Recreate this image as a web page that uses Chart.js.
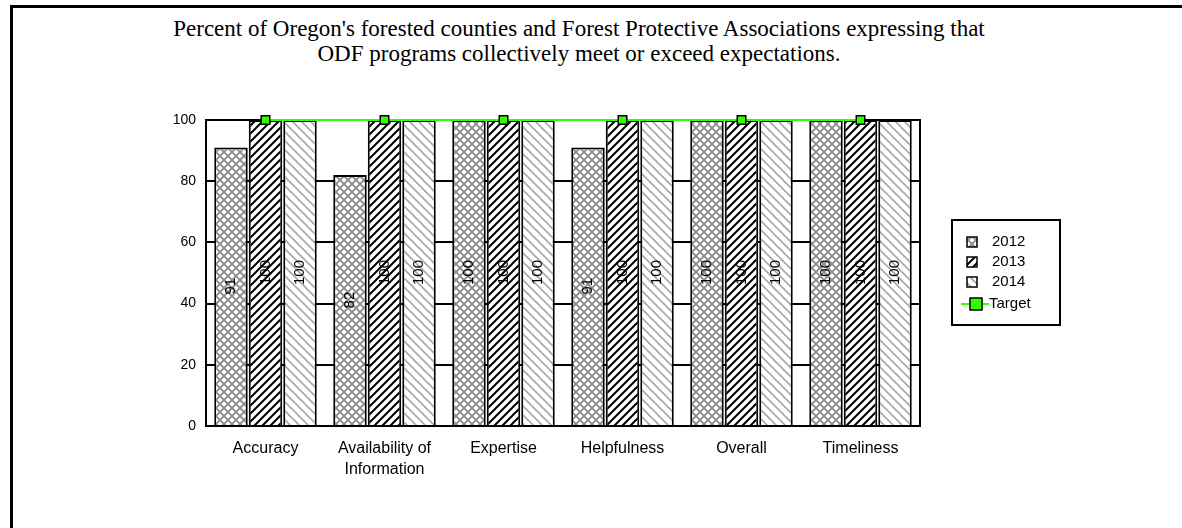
<!DOCTYPE html>
<html lang="en">
<head>
  <meta charset="UTF-8" />
  <title>ODF programs meet or exceed expectations</title>
  <script src="https://cdn.jsdelivr.net/npm/chart.js"></script>
  <style>
    html, body {
      margin: 0;
      padding: 0;
      background: #fff;
    }

    .frame {
      position: relative;
      width: 1182px;
      height: 528px;
      overflow: hidden;
    }

    .frame::before {
      content: "";
      position: absolute;
      left: 10px;
      top: 5px;
      right: -10px;
      bottom: -10px;
      border: 3px solid #000;
    }

    .titulo {
      position: absolute;
      left: 0;
      top: 16px;
      width: 1158px;
      text-align: center;
      font-family: "Liberation Serif", "Times New Roman", serif;
      font-size: 23px;
      line-height: 25px;
      color: #000;
    }

    .grafico {
      position: absolute;
      left: 0;
      top: 0;
      width: 1182px;
      height: 528px;
    }
  </style>
</head>
<body>
  <div class="frame">
    <div class="titulo">
      Percent of Oregon's forested counties and Forest Protective Associations expressing that<br />
      ODF programs collectively meet or exceed expectations.
    </div>
    <div class="grafico">
      <canvas id="grafico"></canvas>
    </div>
  </div>

  <script>
    // dados
    const categorias = ["Accuracy", ["Availability of", "Information"], "Expertise", "Helpfulness", "Overall", "Timeliness"];
    const valores2012 = [91, 82, 100, 91, 100, 100];
    const valores2013 = [100, 100, 100, 100, 100, 100];
    const valores2014 = [100, 100, 100, 100, 100, 100];
    const valoresMeta = [100, 100, 100, 100, 100, 100];
    const ticksY = [0, 20, 40, 60, 80, 100];

    const fonte = "'Liberation Sans', Arial, sans-serif";

    // padrões de preenchimento das barras
    function padrao(tam, desenhar) {
      const c = document.createElement("canvas");
      c.width = tam;
      c.height = tam;
      const g = c.getContext("2d");
      g.fillStyle = "#fff";
      g.fillRect(0, 0, tam, tam);
      desenhar(g, tam);
      return document.createElement("canvas").getContext("2d").createPattern(c, "repeat");
    }

    function barraDireita(g, s) {
      g.beginPath();
      g.moveTo(0, s); g.lineTo(s, 0);
      g.moveTo(-s / 2, s / 2); g.lineTo(s / 2, -s / 2);
      g.moveTo(s / 2, s * 1.5); g.lineTo(s * 1.5, s / 2);
      g.stroke();
    }

    function barraEsquerda(g, s) {
      g.beginPath();
      g.moveTo(0, 0); g.lineTo(s, s);
      g.moveTo(-s / 2, s / 2); g.lineTo(s / 2, s * 1.5);
      g.moveTo(s / 2, -s / 2); g.lineTo(s * 1.5, s / 2);
      g.stroke();
    }

    const padrao2012 = padrao(8, (g, s) => {
      g.strokeStyle = "#8c8c8c";
      g.lineWidth = 1.9;
      barraDireita(g, s);
      barraEsquerda(g, s);
    });

    const padrao2013 = padrao(8, (g, s) => {
      g.strokeStyle = "#000";
      g.lineWidth = 2;
      barraDireita(g, s);
    });

    const padrao2014 = padrao(9, (g, s) => {
      g.strokeStyle = "#a8a8a8";
      g.lineWidth = 1.6;
      barraEsquerda(g, s);
    });

    // moldura da área do gráfico
    const moldura = {
      id: "moldura",
      beforeDatasetsDraw(chart) {
        const { ctx, chartArea: a } = chart;
        ctx.save();
        ctx.strokeStyle = "#000";
        ctx.lineWidth = 2;
        ctx.strokeRect(a.left, a.top, a.right - a.left, a.bottom - a.top);
        ctx.restore();
      }
    };

    // rótulos verticais dentro das barras
    const rotulos = {
      id: "rotulos",
      afterDatasetsDraw(chart) {
        const { ctx } = chart;
        ctx.save();
        ctx.font = "15px " + fonte;
        ctx.fillStyle = "#000";
        ctx.textAlign = "center";
        ctx.textBaseline = "middle";
        chart.data.datasets.forEach((ds, i) => {
          if (ds.type === "line") return;
          chart.getDatasetMeta(i).data.forEach((el, j) => {
            const meio = (el.y + el.base) / 2;
            ctx.save();
            ctx.translate(el.x, meio);
            ctx.rotate(-Math.PI / 2);
            ctx.fillText(String(ds.data[j]), 0, 0);
            ctx.restore();
          });
        });
        ctx.restore();
      }
    };

    // legenda com caixa
    const legenda = {
      id: "legenda",
      afterDraw(chart) {
        const { ctx } = chart;
        ctx.save();
        ctx.strokeStyle = "#000";
        ctx.lineWidth = 2;
        ctx.strokeRect(952, 220, 108, 105);

        ctx.font = "15px " + fonte;
        ctx.textBaseline = "middle";
        ctx.fillStyle = "#000";

        const itens = [
          { texto: "2012", fundo: padrao2012 },
          { texto: "2013", fundo: padrao2013 },
          { texto: "2014", fundo: padrao2014 }
        ];
        itens.forEach((it, i) => {
          const y = 242 + i * 20;
          ctx.fillStyle = it.fundo;
          ctx.fillRect(967, y - 5, 10, 10);
          ctx.lineWidth = 1.5;
          ctx.strokeStyle = "#000";
          ctx.strokeRect(967, y - 5, 10, 10);
          ctx.fillStyle = "#000";
          ctx.fillText(it.texto, 992, y);
        });

        const yMeta = 304;
        ctx.strokeStyle = "#33ff00";
        ctx.lineWidth = 2;
        ctx.beginPath();
        ctx.moveTo(961, yMeta);
        ctx.lineTo(989, yMeta);
        ctx.stroke();
        ctx.fillStyle = "#33ff00";
        ctx.fillRect(970, yMeta - 6, 12, 12);
        ctx.strokeStyle = "#000";
        ctx.lineWidth = 1.5;
        ctx.strokeRect(970, yMeta - 6, 12, 12);
        ctx.fillStyle = "#000";
        ctx.fillText("Target", 989, yMeta);
        ctx.restore();
      }
    };

    const estiloBarra = {
      type: "bar",
      borderColor: "#000",
      borderWidth: 2,
      categoryPercentage: 0.87,
      barPercentage: 0.97,
      order: 1
    };

    new Chart(document.getElementById("grafico"), {
      data: {
        labels: categorias,
        datasets: [
          { ...estiloBarra, label: "2012", data: valores2012, backgroundColor: padrao2012 },
          { ...estiloBarra, label: "2013", data: valores2013, backgroundColor: padrao2013 },
          { ...estiloBarra, label: "2014", data: valores2014, backgroundColor: padrao2014 },
          {
            type: "line",
            label: "Target",
            data: valoresMeta,
            borderColor: "#33ff00",
            borderWidth: 2,
            pointStyle: "rect",
            pointRadius: 6,
            pointBackgroundColor: "#33ff00",
            pointBorderColor: "#000",
            pointBorderWidth: 1.5,
            clip: false,
            order: 0
          }
        ]
      },
      options: {
        responsive: true,
        maintainAspectRatio: false,
        animation: false,
        layout: {
          padding: { left: 156, top: 120, right: 262, bottom: 52 }
        },
        plugins: {
          legend: { display: false },
          title: { display: false },
          tooltip: { enabled: false }
        },
        scales: {
          x: {
            grid: { display: false },
            border: { display: false },
            afterFit: s => { s.height = 50; },
            ticks: {
              color: "#000",
              font: { family: fonte, size: 16, lineHeight: 1.3 },
              padding: 4,
              maxRotation: 0
            }
          },
          y: {
            min: 0,
            max: 100,
            afterFit: s => { s.width = 50; },
            afterBuildTicks: s => { s.ticks = ticksY.map(v => ({ value: v })); },
            grid: { color: "#000", lineWidth: 2, drawTicks: false },
            border: { display: false },
            ticks: {
              color: "#000",
              font: { family: fonte, size: 14 },
              padding: 10
            }
          }
        }
      },
      plugins: [moldura, rotulos, legenda]
    });
  </script>
</body>
</html>
